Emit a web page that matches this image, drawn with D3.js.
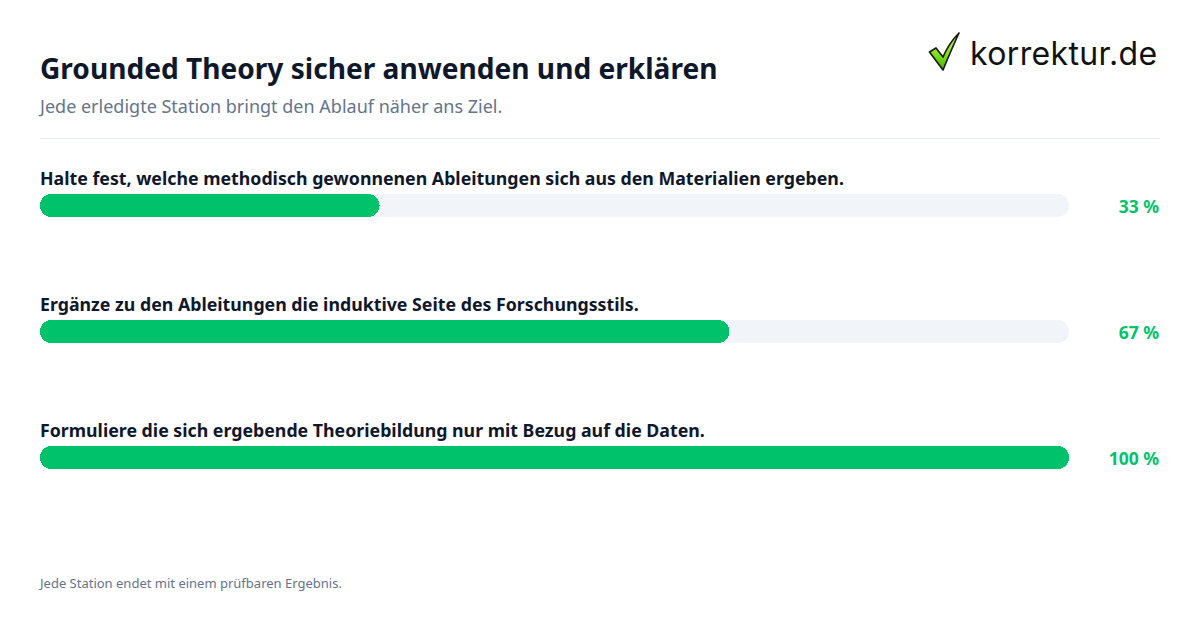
<!DOCTYPE html>
<html>
<head>
<meta charset="utf-8">
<script src="https://cdn.jsdelivr.net/npm/d3@7"></script>
<style>
html, body { margin: 0; background: #fff; }
text { font-family: "Noto Sans", sans-serif; }
</style>
</head>
<body>
<div id="chart"></div>
<script>
const labels = [
    'Halte fest, welche methodisch gewonnenen Ableitungen sich aus den Materialien ergeben.',
    'Ergänze zu den Ableitungen die induktive Seite des Forschungsstils.',
    'Formuliere die sich ergebende Theoriebildung nur mit Bezug auf die Daten.'
];
const values = [33, 67, 100];

const width = 1200, height = 630;
const svg = d3.select('#chart').append('svg')
    .attr('width', width)
    .attr('height', height)
    .style('display', 'block');

svg.append('text').attr('x', 40).attr('y', 79)
    .attr('font-size', 28.1).attr('font-weight', 700).attr('fill', '#0f172a')
    .text('Grounded Theory sicher anwenden und erklären');
svg.append('text').attr('x', 40).attr('y', 113)
    .attr('font-size', 18).attr('fill', '#64748b')
    .text('Jede erledigte Station bringt den Ablauf näher ans Ziel.');
svg.append('line').attr('x1', 40).attr('x2', 1160).attr('y1', 138.5).attr('y2', 138.5)
    .attr('stroke', '#e2e8f0');

let x = d3.scaleLinear().domain([0, 100]).range([40, 1069]);
let y = d3.scalePoint().domain(labels).range([194, 446]);
const barh = 23;

let row = svg.selectAll('g.row').data(labels).enter().append('g')
    .attr('class', 'row')
    .attr('transform', d => 'translate(0, ' + y(d) + ')');

row.append('text').attr('x', 40).attr('y', -9)
    .attr('font-size', 17.75).attr('font-weight', 700).attr('fill', '#0f172a')
    .text(d => d);
row.append('rect').attr('x', x(0)).attr('width', x(100) - x(0)).attr('height', barh)
    .attr('rx', 11.5).attr('fill', '#f1f5f9').attr('shape-rendering', 'crispEdges');
row.append('rect').attr('x', x(0)).attr('width', (d, i) => x(values[i]) - x(0)).attr('height', barh)
    .attr('rx', 11.5).attr('fill', '#00c26b').attr('shape-rendering', 'crispEdges');
row.append('text').attr('x', 1159).attr('y', 19)
    .attr('text-anchor', 'end')
    .attr('font-size', 17.5).attr('font-weight', 700).attr('fill', '#00c26b')
    .text((d, i) => values[i] + ' %');

svg.append('text').attr('x', 40).attr('y', 588)
    .attr('font-size', 13).attr('fill', '#64748b')
    .text('Jede Station endet mit einem prüfbaren Ergebnis.');

// logo
let logo = svg.append('g');
let grad = svg.append('defs').append('linearGradient').attr('id', 'tick')
    .attr('x1', 0).attr('y1', 0).attr('x2', 0).attr('y2', 1);
grad.append('stop').attr('offset', '0%').attr('stop-color', '#d4f94a');
grad.append('stop').attr('offset', '60%').attr('stop-color', '#7fe012');
grad.append('stop').attr('offset', '100%').attr('stop-color', '#3fb008');
logo.append('path')
    .attr('d', 'M929.5 52 L936 48 L943 57 Q949 43 959 33 Q952 48 943 70 Z')
    .attr('fill', 'url(#tick)').attr('stroke', '#1a1a1a').attr('stroke-width', 1.7).attr('stroke-linejoin', 'round');
logo.append('text').attr('x', 970).attr('y', 65)
    .style('font-family', 'Inter')
    .attr('font-size', 32).attr('letter-spacing', 0.35).attr('fill', '#111')
    .text('korrektur.de');
</script>
</body>
</html>
